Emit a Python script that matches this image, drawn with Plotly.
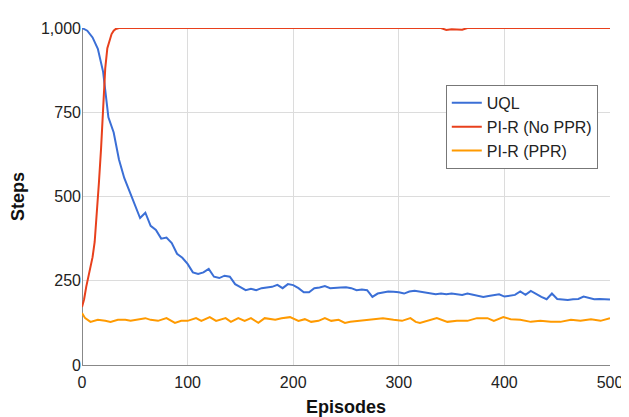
import plotly.graph_objects as go

# UQL
uql_x = [0, 5, 10, 15, 20, 25, 30, 35, 40, 45, 50, 55, 60, 65, 70, 75, 80, 85, 90, 95,
         100, 105, 110, 115, 120, 125, 130, 135, 140, 145, 150, 155, 160, 165, 170, 175, 180, 185, 190, 195,
         200, 205, 210, 215, 220, 225, 230, 235, 240, 245, 250, 255, 260, 265, 270, 275, 280, 285, 290, 295,
         300, 305, 310, 315, 320, 325, 330, 335, 340, 345, 350, 355, 360, 365, 370, 375, 380, 385, 390, 395,
         400, 405, 410, 415, 420, 425, 430, 435, 440, 445, 450, 455, 460, 465, 470, 475, 480, 485, 490, 495, 500]
uql_y = [1000, 992, 972, 938, 870, 735, 690, 610, 555, 515, 481, 436, 452, 413, 401, 375, 378, 362, 330, 318,
         300, 275, 270, 275, 285, 262, 258, 265, 262, 240, 231, 222, 226, 222, 228, 230, 232, 238, 228, 240,
         237, 228, 216, 216, 228, 230, 234, 228, 228, 230, 231, 228, 222, 224, 222, 202, 212, 216, 218, 217,
         216, 212, 218, 220, 218, 215, 214, 210, 212, 210, 212, 210, 208, 212, 208, 205, 202, 205, 208, 210,
         203, 206, 208, 218, 208, 220, 210, 202, 195, 212, 196, 194, 193, 195, 196, 203, 198, 195, 196, 196, 194]

# PI-R (No PPR)
nop_x = [0, 2, 4, 6, 8, 10, 12, 14, 16, 18, 20, 22, 24, 26, 28, 30, 32, 35, 40, 57, 70, 100,
         200, 300, 340, 345, 350, 360, 365, 400, 500]
nop_y = [172, 195, 232, 260, 285, 320, 365, 440, 540, 640, 780, 880, 940, 965, 982, 992, 997, 1000, 1000, 998, 1000, 1000,
         1000, 1000, 1000, 994, 996, 995, 1000, 1000, 1000]

# PI-R (PPR)
ppr_x = [0, 3, 8, 15, 22, 27, 34, 41, 46, 53, 60, 65, 72, 80, 88, 94, 100, 108, 113, 121,
         127, 136, 141, 148, 154, 160, 167, 173, 183, 189, 197, 205, 211, 217, 224, 230, 236, 243, 249, 254,
         263, 273, 285, 295, 303, 311, 316, 320, 327, 336, 346, 355, 365, 374, 384, 390, 399, 406, 415, 425,
         434, 444, 453, 463, 472, 482, 491, 500]
ppr_y = [154, 139, 128, 134, 131, 128, 134, 134, 131, 136, 139, 134, 131, 139, 125, 131, 131, 139, 131, 142,
         131, 139, 128, 139, 131, 139, 125, 139, 134, 139, 142, 131, 136, 128, 131, 139, 131, 134, 125, 128,
         131, 134, 139, 134, 131, 139, 128, 125, 131, 139, 128, 131, 131, 139, 139, 131, 142, 136, 134, 128,
         131, 128, 128, 134, 131, 136, 131, 139]

x_ticks = [0, 100, 200, 300, 400, 500]
y_ticks = [0, 250, 500, 750, 1000]

FONT = "Arial"

fig = go.Figure()
fig.add_trace(go.Scatter(x=uql_x, y=uql_y, mode="lines", name="UQL",
                         line=dict(color="#3b6fd6", width=2)))
fig.add_trace(go.Scatter(x=nop_x, y=nop_y, mode="lines", name="PI-R (No PPR)",
                         line=dict(color="#e8401c", width=2)))
fig.add_trace(go.Scatter(x=ppr_x, y=ppr_y, mode="lines", name="PI-R (PPR)",
                         line=dict(color="#ff9a00", width=2)))

# page body adds an 8px offset, margins compensate for it
fig.update_layout(
    width=629, height=417,
    margin=dict(l=74, r=27, t=20, b=60, autoexpand=False),
    paper_bgcolor="white", plot_bgcolor="white",
    font=dict(family=FONT, size=16, color="#222"),
    showlegend=True,
    legend=dict(x=0.689, y=0.831, xanchor="left", yanchor="top",
                bordercolor="#777", borderwidth=1, bgcolor="white",
                font=dict(family=FONT, size=16, color="#222"),
                tracegroupgap=0, itemwidth=30),
)
fig.update_xaxes(range=[0, 500], tickvals=x_ticks, showgrid=True, gridcolor="#dcdcdc",
                 zeroline=True, zerolinecolor="#888", zerolinewidth=1, automargin=False,
                 ticks="", ticklabelstandoff=6, tickfont=dict(family=FONT, size=16, color="#222"),
                 title=dict(text="<b>Episodes</b>", font=dict(family=FONT, size=18, color="#111"), standoff=10))
fig.update_yaxes(range=[0, 1000], tickvals=y_ticks, tickformat=",", showgrid=True, gridcolor="#dcdcdc",
                 zeroline=True, zerolinecolor="#888", zerolinewidth=1, automargin=False,
                 ticks="", tickfont=dict(family=FONT, size=16, color="#222"),
                 title=dict(text="<b>Steps</b>", font=dict(family=FONT, size=18, color="#111"), standoff=14))

fig.write_html("out.html")
